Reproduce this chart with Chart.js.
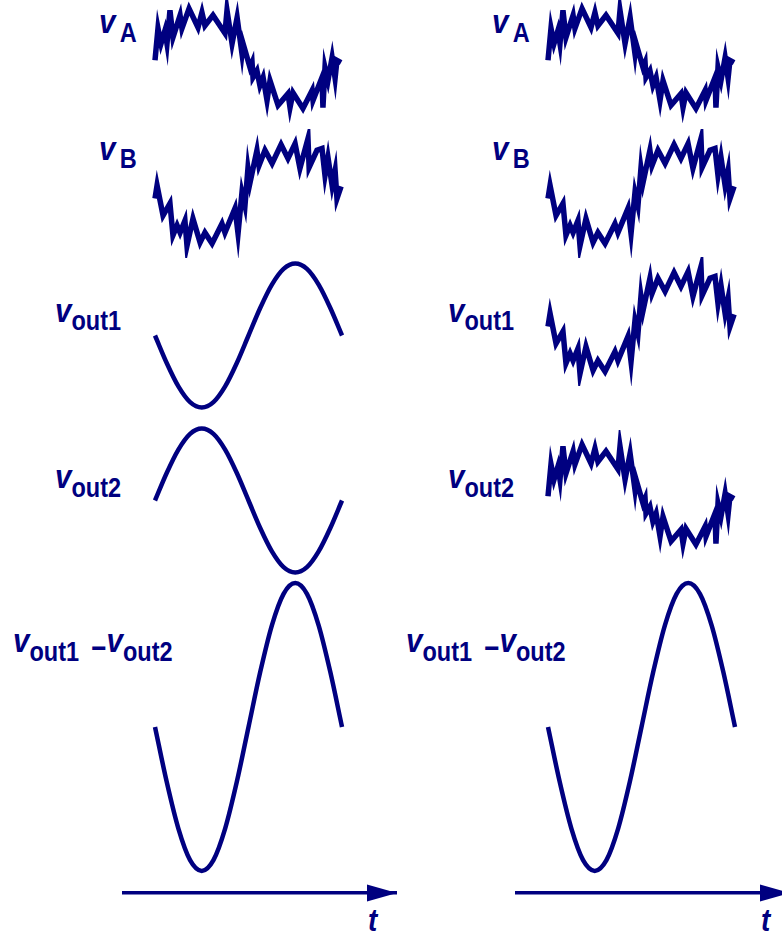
<!DOCTYPE html>
<html>
<head>
<meta charset="utf-8">
<script src="https://cdn.jsdelivr.net/npm/chart.js@4.4.1/dist/chart.umd.min.js"></script>
<style>
  html, body { margin: 0; padding: 0; background: #fff; overflow: hidden; }
  #stage { position: relative; width: 782px; height: 933px; overflow: hidden; background: #fff; }
  #stage canvas { position: absolute; }
  .lbl {
    position: absolute; white-space: nowrap;
    font-family: "Liberation Sans", Arial, sans-serif; font-weight: bold;
    color: #000080; font-size: 34px; line-height: 34px;
    transform: scaleX(0.87); transform-origin: 0 0;
  }
  .lbl i { font-style: italic; }
  .sub { font-size: 27px; line-height: 27px; vertical-align: -9px; }
  .minus { font-size: 30px; line-height: 27px; vertical-align: -6px; margin-left: 14px; }
  .tlbl { font-size: 32px; line-height: 32px; font-style: italic; }
</style>
</head>
<body>
<div id="stage">
  <!-- left column: input noise shows up as common mode -->
  <div class="lbl" style="left:99px;top:4px"><i>v</i><span class="sub" style="margin-left:5px">A</span></div>
  <div class="lbl" style="left:99px;top:131px"><i>v</i><span class="sub" style="margin-left:5px;vertical-align:-8px">B</span></div>
  <div class="lbl" style="left:55px;top:293px"><i>v</i><span class="sub" style="vertical-align:-8px">out1</span></div>
  <div class="lbl" style="left:55px;top:459px"><i>v</i><span class="sub">out2</span></div>
  <div class="lbl" style="left:13px;top:623px"><i>v</i><span class="sub">out1</span><span class="minus">−</span><i>v</i><span class="sub">out2</span></div>
  <div class="lbl tlbl" style="left:368px;top:904px">t</div>

  <!-- right column -->
  <div class="lbl" style="left:492px;top:4px"><i>v</i><span class="sub" style="margin-left:5px">A</span></div>
  <div class="lbl" style="left:492px;top:131px"><i>v</i><span class="sub" style="margin-left:5px;vertical-align:-8px">B</span></div>
  <div class="lbl" style="left:448px;top:293px"><i>v</i><span class="sub" style="vertical-align:-8px">out1</span></div>
  <div class="lbl" style="left:448px;top:459px"><i>v</i><span class="sub">out2</span></div>
  <div class="lbl" style="left:406px;top:623px"><i>v</i><span class="sub">out1</span><span class="minus">−</span><i>v</i><span class="sub">out2</span></div>
  <div class="lbl tlbl" style="left:761px;top:904px">t</div>
</div>

<script>
// ---- waveform data: time in signal periods, amplitude in volts ----

// input A: signal plus the common noise
const tA = [0, 0.016, 0.032, 0.053, 0.064, 0.080, 0.096, 0.134, 0.144, 0.182,
            0.230, 0.251, 0.267, 0.310, 0.374, 0.385, 0.412, 0.439, 0.465, 0.471,
            0.508, 0.519, 0.524, 0.545, 0.561, 0.578, 0.599, 0.615, 0.658, 0.711,
            0.722, 0.738, 0.791, 0.840, 0.845, 0.893, 0.898, 0.909, 0.925, 0.947,
            0.963, 0.973, 0.995];
const vA = [-0.04, 0.67, 0.33, 0.62, 0.33, 1.07, 0.47, 0.96, 0.67, 1.11,
            0.69, 1.02, 0.73, 0.96, 0.56, 1.07, 0.33, 0.91, 0.11, 0.33,
            -0.20, -0.09, -0.42, -0.27, -0.60, -0.42, -0.93, -0.49, -1.04, -0.78,
            -1.09, -0.76, -1.11, -0.71, -0.93, -0.42, -1.09, -0.20, -0.49, 0.02,
            -0.44, -0.04, -0.09];

// input B: inverted signal plus the same noise
const tB = [0, 0.011, 0.043, 0.080, 0.096, 0.118, 0.134, 0.160, 0.171, 0.203,
            0.241, 0.267, 0.305, 0.358, 0.374, 0.428, 0.444, 0.465, 0.481, 0.497,
            0.508, 0.545, 0.556, 0.588, 0.626, 0.674, 0.711, 0.749, 0.775, 0.818,
            0.824, 0.866, 0.893, 0.909, 0.925, 0.947, 0.963, 0.973, 0.995];
const vB = [-0.11, 0.18, -0.49, -0.22, -0.93, -0.71, -0.87, -0.60, -1.16, -0.56,
            -1.09, -0.87, -1.11, -0.67, -0.87, -0.33, -0.89, 0.02, -0.27, 0.56,
            0.24, 0.96, 0.62, 0.96, 0.67, 1.09, 0.78, 1.11, 0.56, 1.22,
            0.58, 0.96, 1.00, 0.40, 0.80, 0.18, 0.51, -0.11, 0.16];

// clean outputs
const tSmooth = [0, 0.0625, 0.125, 0.1875, 0.25, 0.3125, 0.375, 0.4375, 0.5,
                 0.5625, 0.625, 0.6875, 0.75, 0.8125, 0.875, 0.9375, 1];
const vOut1Clean = [0, -0.61, -1.13, -1.48, -1.6, -1.48, -1.13, -0.61, 0,
                    0.61, 1.13, 1.48, 1.6, 1.48, 1.13, 0.61, 0];
const vOut2Clean = [0, 0.61, 1.13, 1.48, 1.6, 1.48, 1.13, 0.61, 0,
                    -0.61, -1.13, -1.48, -1.6, -1.48, -1.13, -0.61, 0];
const vDiff = [0, -1.22, -2.26, -2.96, -3.2, -2.96, -2.26, -1.22, 0,
               1.22, 2.26, 2.96, 3.2, 2.96, 2.26, 1.22, 0];

// ---- drawing ----
const NAVY = '#000080';
const PX_PER_VOLT = 45;
const T_MIN = -0.1765, T_MAX = 1.294;   // time axis runs past the traces, ends at the arrow tip
const AXIS_W = 275;                      // width of the time axis in px
const COL_LEFT = [122, 515];

// filled arrowhead at the right end of the time axis
const arrowHead = {
  id: 'arrowHead',
  afterDraw(chart) {
    const { ctx, chartArea: a } = chart;
    const y = a.bottom;
    ctx.save();
    ctx.fillStyle = NAVY;
    ctx.beginPath();
    ctx.moveTo(a.right, y);
    ctx.lineTo(a.right - 30, y - 8.5);
    ctx.lineTo(a.right - 30, y + 8.5);
    ctx.closePath();
    ctx.fill();
    ctx.restore();
  }
};

function trace(col, mid, lo, hi, t, v, opt) {
  const padT = 6, padB = opt.axis ? 10 : 6;
  const c = document.createElement('canvas');
  c.width = AXIS_W;
  c.height = Math.round((hi - lo) * PX_PER_VOLT) + padT + padB;
  c.style.left = COL_LEFT[col] + 'px';
  c.style.top = Math.round(mid - hi * PX_PER_VOLT - padT) + 'px';
  document.getElementById('stage').appendChild(c);
  new Chart(c, {
    type: 'line',
    data: {
      datasets: [{
        data: t.map((x, i) => ({ x, y: v[i] })),
        borderColor: NAVY,
        borderWidth: opt.smooth ? 4.5 : 5.5,
        pointRadius: 0,
        fill: false,
        tension: 0,
        cubicInterpolationMode: opt.smooth ? 'monotone' : 'default',
        borderJoinStyle: 'miter',
        borderCapStyle: 'butt',
        clip: false
      }]
    },
    options: {
      responsive: false,
      animation: false,
      devicePixelRatio: 1,
      events: [],
      layout: { padding: { top: padT, bottom: padB, left: 0, right: 0 } },
      plugins: { legend: { display: false }, tooltip: { enabled: false } },
      scales: {
        x: {
          type: 'linear', min: T_MIN, max: T_MAX,
          display: !!opt.axis,
          grid: { display: false, drawTicks: false },
          ticks: { display: false },
          border: { display: true, color: NAVY, width: 3.5 }
        },
        y: { type: 'linear', min: lo, max: hi, display: false }
      }
    },
    plugins: opt.axis ? [arrowHead] : []
  });
}

// left column: differential output removes the noise
trace(0, 58, -1.3, 1.3, tA, vA, {});
trace(0, 193, -1.3, 1.3, tB, vB, {});
trace(0, 335, -1.7, 1.7, tSmooth, vOut1Clean, { smooth: true });
trace(0, 500, -1.7, 1.7, tSmooth, vOut2Clean, { smooth: true });
trace(0, 727, -3.69, 3.4, tSmooth, vDiff, { smooth: true, axis: true });

// right column: noise passes to each single-ended output
trace(1, 58, -1.3, 1.3, tA, vA, {});
trace(1, 193, -1.3, 1.3, tB, vB, {});
trace(1, 321, -1.3, 1.3, tB, vB, {});
trace(1, 494, -1.3, 1.3, tA, vA, {});
trace(1, 727, -3.69, 3.4, tSmooth, vDiff, { smooth: true, axis: true });
</script>
</body>
</html>
